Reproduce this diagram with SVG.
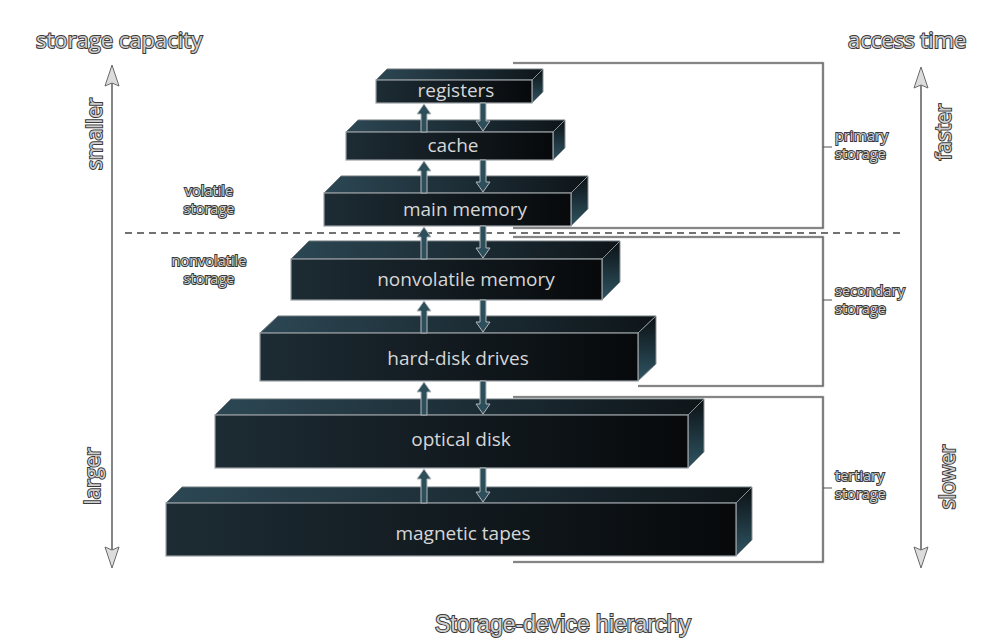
<svg xmlns="http://www.w3.org/2000/svg" width="992" height="640" viewBox="0 0 992 640">
<defs>
<linearGradient id="gFront" x1="0" y1="0" x2="1" y2="0">
<stop offset="0" stop-color="#1d2c34"/><stop offset="1" stop-color="#07090b"/>
</linearGradient>
<linearGradient id="gTop" x1="0" y1="0" x2="1" y2="0">
<stop offset="0" stop-color="#2c4754"/><stop offset="1" stop-color="#0e1519"/>
</linearGradient>
<linearGradient id="gSide" x1="0" y1="0" x2="0" y2="1">
<stop offset="0" stop-color="#0b1114"/><stop offset="1" stop-color="#2f5462"/>
</linearGradient>
<style>
.front{fill:url(#gFront);stroke:#9aa1a5;stroke-width:1.2}
.top{fill:url(#gTop);stroke:#6f787d;stroke-width:1}
.side{fill:url(#gSide);stroke:#8a9296;stroke-width:1}
.lbl{font-family:"Open Sans","Noto Sans",sans-serif;font-size:19px;fill:#d6d6d6;text-anchor:middle}
.out{font-family:"Open Sans","Noto Sans",sans-serif;fill:#cfcfcf;stroke:#3a3a3a;stroke-width:2;paint-order:stroke;}
.ax{font-size:21px}
.ttl{font-size:22px}
.sm{font-size:14.5px}
.arw{fill:#2d4e5b;stroke:#b3b9bc;stroke-width:1}
.brk1{fill:none;stroke:#bbbbbb;stroke-width:2.6}
.brk2{fill:none;stroke:#505050;stroke-width:1.1}
.axl{stroke:#666;stroke-width:1.6}
.axh{fill:#dcdcdc;stroke:#6a6a6a;stroke-width:1}
</style>
</defs>
<rect width="992" height="640" fill="#ffffff"/>

<g id="titles">
<text class="out ttl" x="36" y="48">storage capacity</text>
<text class="out ttl" x="848" y="48">access time</text>
</g>

<g id="brackets">
<path class="brk1" d="M513,63 H823 V228 H513"/>
<path class="brk2" d="M513,63 H823 V228 H513"/>
<path class="brk1" d="M513,237 H823 V386 H638"/>
<path class="brk2" d="M513,237 H823 V386 H638"/>
<path class="brk1" d="M513,397 H823 V562 H513"/>
<path class="brk2" d="M513,397 H823 V562 H513"/>
<path class="brk2" d="M823,147 H832 M823,300 H832 M823,488 H832"/>
<text class="out sm" x="835" y="141">primary</text>
<text class="out sm" x="835" y="159">storage</text>
<text class="out sm" x="835" y="296">secondary</text>
<text class="out sm" x="835" y="314">storage</text>
<text class="out sm" x="835" y="481">tertiary</text>
<text class="out sm" x="835" y="499">storage</text>
</g>

<g id="divider">
<line x1="125" y1="233" x2="905" y2="233" stroke="#444" stroke-width="1.5" stroke-dasharray="7 5"/>
<text class="out sm" x="209" y="196" text-anchor="middle">volatile</text>
<text class="out sm" x="209" y="214" text-anchor="middle">storage</text>
<text class="out sm" x="209" y="266" text-anchor="middle">nonvolatile</text>
<text class="out sm" x="209" y="284" text-anchor="middle">storage</text>
</g>

<g id="axis-capacity">
<line class="axl" x1="112" y1="80" x2="112" y2="554"/>
<polygon class="axh" points="112,65 119,86 112,83 105,86"/>
<polygon class="axh" points="112,568 119,547 112,550 105,547"/>
<text class="out ax" transform="translate(102,134) rotate(-90)" text-anchor="middle">smaller</text>
<text class="out ax" transform="translate(100,476) rotate(-90)" text-anchor="middle">larger</text>
</g>

<g id="axis-time">
<line class="axl" x1="921" y1="82" x2="921" y2="554"/>
<polygon class="axh" points="921,67 928,88 921,85 914,88"/>
<polygon class="axh" points="921,568 928,547 921,550 914,547"/>
<text class="out ax" transform="translate(951,132) rotate(-90)" text-anchor="middle">faster</text>
<text class="out ax" transform="translate(955,477) rotate(-90)" text-anchor="middle">slower</text>
</g>

<g id="node-tapes">
<polygon class="top" points="166,503 182,487 752,487 736,503"/>
<polygon class="side" points="736,503 752,487 752,540 736,556"/>
<rect class="front" x="166" y="503" width="570" height="53"/>
<text class="lbl" x="463" y="540">magnetic tapes</text>
</g>

<g id="node-optical">
<polygon class="top" points="215,415 231,399 704,399 688,415"/>
<polygon class="side" points="688,415 704,399 704,452 688,468"/>
<rect class="front" x="215" y="415" width="473" height="53"/>
<text class="lbl" x="461" y="446">optical disk</text>
</g>

<g id="node-hdd">
<polygon class="top" points="260,333 278,316 656,316 638,333"/>
<polygon class="side" points="638,333 656,316 656,364 638,381"/>
<rect class="front" x="260" y="333" width="378" height="48"/>
<text class="lbl" x="458" y="365">hard-disk drives</text>
</g>

<g id="node-nvm">
<polygon class="top" points="291,259 309,241 620,241 602,259"/>
<polygon class="side" points="602,259 620,241 620,282 602,300"/>
<rect class="front" x="291" y="259" width="311" height="41"/>
<text class="lbl" x="466" y="286">nonvolatile memory</text>
</g>

<g id="node-main">
<polygon class="top" points="324,193 341,176 588,176 571,193"/>
<polygon class="side" points="571,193 588,176 588,209 571,226"/>
<rect class="front" x="324" y="193" width="247" height="33"/>
<text class="lbl" x="465" y="216">main memory</text>
</g>

<g id="node-cache">
<polygon class="top" points="346,132 358,120 565,120 553,132"/>
<polygon class="side" points="553,132 565,120 565,148 553,160"/>
<rect class="front" x="346" y="132" width="207" height="28"/>
<text class="lbl" x="453" y="152">cache</text>
</g>

<g id="node-registers">
<polygon class="top" points="376,80 387,69 543,69 532,80"/>
<polygon class="side" points="532,80 543,69 543,92 532,103"/>
<rect class="front" x="376" y="80" width="156" height="23"/>
<text class="lbl" x="456" y="97">registers</text>
</g>

<g id="connectors">
<polygon class="arw" points="424,104 431,114 427,114 427,132 421,132 421,114 417,114"/>
<polygon class="arw" points="483,131 490,121 486,121 486,103 480,103 480,121 476,121"/>
<polygon class="arw" points="424,161 431,171 427,171 427,193 421,193 421,171 417,171"/>
<polygon class="arw" points="483,192 490,182 486,182 486,160 480,160 480,182 476,182"/>
<polygon class="arw" points="424,227 431,237 427,237 427,259 421,259 421,237 417,237"/>
<polygon class="arw" points="483,258 490,248 486,248 486,226 480,226 480,248 476,248"/>
<polygon class="arw" points="424,301 431,311 427,311 427,333 421,333 421,311 417,311"/>
<polygon class="arw" points="483,332 490,322 486,322 486,300 480,300 480,322 476,322"/>
<polygon class="arw" points="424,382 431,392 427,392 427,415 421,415 421,392 417,392"/>
<polygon class="arw" points="483,414 490,404 486,404 486,381 480,381 480,404 476,404"/>
<polygon class="arw" points="424,469 431,479 427,479 427,503 421,503 421,479 417,479"/>
<polygon class="arw" points="483,502 490,492 486,492 486,468 480,468 480,492 476,492"/>
</g>

<g id="caption">
<text x="435" y="632" font-family="Liberation Sans, Arial, sans-serif" font-size="23" fill="#cfcfcf" stroke="#3a3a3a" stroke-width="2" paint-order="stroke">Storage-device hierarchy</text>
</g>
</svg>
